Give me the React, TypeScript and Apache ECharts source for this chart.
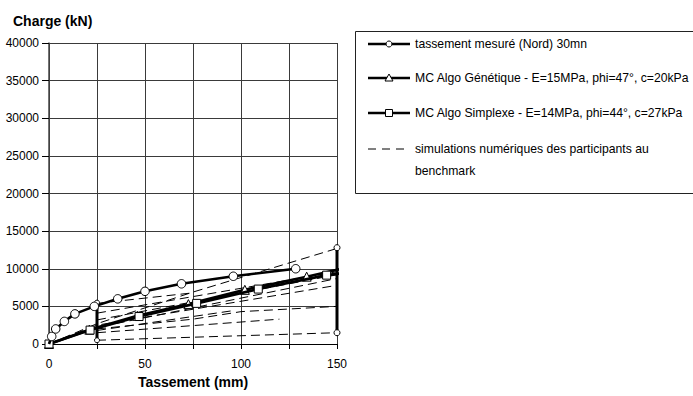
import React, { useEffect, useRef } from "react";
import * as echarts from "echarts";

const FONT = "'Liberation Sans', Arial, sans-serif";

const xTicks = [0, 25, 50, 75, 100, 125, 150];
const yTicks = [0, 5000, 10000, 15000, 20000, 25000, 30000, 35000, 40000];

const measured: number[][] = [
  [0, 0], [1.4, 1000], [3.5, 2000], [8, 3000], [13.5, 4000], [23.6, 5000],
  [35.8, 6000], [50, 7000], [69, 8000], [96, 9000], [128.5, 10000],
];
const genetic: number[][] = [
  [0, 0], [21, 1900], [46, 3750], [72.6, 5300], [102, 7200], [134.2, 8950], [152.5, 10000],
];
const simplex: number[][] = [
  [0, 0], [21.4, 1850], [46.9, 3650], [76.9, 5400], [109, 7300], [144.6, 9150], [152.5, 9400],
];
const rangeAt25: number[][] = [[25, 500], [25, 5500]];
const rangeAt150: number[][] = [[150, 1500], [150, 12800]];

const simulations: number[][][] = [
  [[25, 500], [150, 1500]],
  [[25, 2000], [75, 3300], [100, 4300], [150, 5000]],
  [[25, 1500], [120, 3300]],
  [[25, 1800], [95, 4400]],
  [[0, 0], [25, 2500], [150, 7800]],
  [[0, 0], [25, 2200], [150, 8700]],
  [[25, 3200], [150, 9200]],
  [[25, 4100], [150, 9600]],
  [[0, 0], [25, 2700], [75, 6900], [150, 12700]],
  [[25, 5400], [50, 6100], [75, 6800]],
];

const legendLabels = [
  "tassement mesuré (Nord) 30mn",
  "MC Algo Génétique - E=15MPa, phi=47°, c=20kPa",
  "MC Algo Simplexe - E=14MPa, phi=44°, c=27kPa",
  "simulations numériques des participants au",
  "benchmark",
];

export default function App() {
  const ref = useRef<HTMLDivElement>(null);
  useEffect(() => {
    const chart = echarts.init(ref.current!, null, { renderer: "svg" });
    const thick = { color: "#000", width: 2.6 };
    const markerStyle = { color: "#fff", borderColor: "#000", borderWidth: 1 };
    const series: any[] = [];
    simulations.forEach((d, i) => {
      series.push({
        type: "line",
        name: "sim" + i,
        data: d,
        symbol: "none",
        clip: false,
        lineStyle: { color: "#000", width: 1, type: [9, 5] },
        z: 2,
      });
    });
    series.push(
      {
        type: "line", name: "r25", data: rangeAt25, symbol: "circle", symbolSize: 5,
        itemStyle: markerStyle, lineStyle: { color: "#000", width: 3 }, clip: false, z: 3,
      },
      {
        type: "line", name: "r150", data: rangeAt150, symbol: "circle", symbolSize: 6,
        itemStyle: markerStyle, lineStyle: { color: "#000", width: 3 }, clip: false, z: 3,
      },
      {
        type: "line", name: "genetic", data: genetic.map((p, i) => ({ value: p, symbol: i === genetic.length - 1 ? "none" : "triangle" })),
        symbol: "triangle", symbolSize: 9, itemStyle: markerStyle, lineStyle: thick, clip: false, z: 4,
      },
      {
        type: "line", name: "simplex", data: simplex.map((p, i) => ({ value: p, symbol: i === simplex.length - 1 ? "none" : "rect" })),
        symbol: "rect", symbolSize: 8, itemStyle: markerStyle, lineStyle: thick, clip: false, z: 5,
      },
      {
        type: "line", name: "measured", data: measured.map((p, i) => ({ value: p, symbol: i === 0 ? "none" : "circle" })),
        symbol: "circle", symbolSize: 8.5, itemStyle: markerStyle, lineStyle: thick, clip: false, z: 6,
      }
    );

    const lx1 = 368, lx2 = 410, lmid = 389, tx = 415;
    const rows = [44, 78, 113, 149];
    const textStyle = (t: string, y: number) => ({
      type: "text", x: tx, y, style: { text: t, font: `12.2px ${FONT}`, fill: "#000", verticalAlign: "middle", align: "left" },
    });
    const graphic: any[] = [
      { type: "text", x: 13, y: 21, style: { text: "Charge (kN)", font: `bold 14px ${FONT}`, fill: "#000", verticalAlign: "middle" } },
      { type: "rect", shape: { x: 355.5, y: 31.5, width: 400, height: 162 }, style: { fill: "#fff", stroke: "#222", lineWidth: 1 }, z: 10 },
      { type: "line", shape: { x1: lx1, y1: rows[0], x2: lx2, y2: rows[0] }, style: { stroke: "#000", lineWidth: 2.6 }, z: 11 },
      { type: "circle", shape: { cx: lmid, cy: rows[0], r: 3 }, style: { fill: "#fff", stroke: "#000", lineWidth: 1 }, z: 12 },
      { type: "line", shape: { x1: lx1, y1: rows[1], x2: lx2, y2: rows[1] }, style: { stroke: "#000", lineWidth: 2.6 }, z: 11 },
      { type: "polygon", shape: { points: [[lmid, rows[1] - 4], [lmid - 4, rows[1] + 3], [lmid + 4, rows[1] + 3]] }, style: { fill: "#fff", stroke: "#000", lineWidth: 1 }, z: 12 },
      { type: "line", shape: { x1: lx1, y1: rows[2], x2: lx2, y2: rows[2] }, style: { stroke: "#000", lineWidth: 2.6 }, z: 11 },
      { type: "rect", shape: { x: lmid - 3.5, y: rows[2] - 3.5, width: 7, height: 7 }, style: { fill: "#fff", stroke: "#000", lineWidth: 1 }, z: 12 },
      { type: "line", shape: { x1: lx1, y1: rows[3], x2: 406, y2: rows[3] }, style: { stroke: "#000", lineWidth: 1, lineDash: [8, 6] }, z: 11 },
    ];
    rows.forEach((y, i) => graphic.push({ ...textStyle(legendLabels[i], y), z: 12 }));
    graphic.push({ ...textStyle(legendLabels[4], 171), z: 12 });

    chart.setOption({
      animation: false,
      backgroundColor: "#fff",
      grid: { left: 49, right: 356, top: 43, bottom: 52 },
      xAxis: {
        type: "value",
        min: xTicks[0],
        max: xTicks[xTicks.length - 1],
        interval: 25,
        name: "Tassement (mm)",
        nameLocation: "middle",
        nameGap: 29,
        nameTextStyle: { fontFamily: FONT, fontWeight: "bold", fontSize: 14, color: "#000" },
        axisLine: { lineStyle: { color: "#000", width: 1 } },
        axisTick: { show: true, length: 5, lineStyle: { color: "#000" } },
        axisLabel: {
          fontFamily: FONT, fontSize: 12, color: "#000", margin: 14,
          formatter: (v: number) => (v % 50 === 0 ? String(v) : ""),
        },
        splitLine: { show: true, lineStyle: { color: "#3a3a3a", width: 1 } },
      },
      yAxis: {
        type: "value",
        min: yTicks[0],
        max: yTicks[yTicks.length - 1],
        interval: 5000,
        axisLine: { show: true, lineStyle: { color: "#444", width: 1.5 } },
        axisTick: { show: true, length: 7, lineStyle: { color: "#000" } },
        axisLabel: { fontFamily: FONT, fontSize: 12, color: "#000", margin: 10, formatter: (v: number) => String(v) },
        splitLine: { show: true, lineStyle: { color: "#3a3a3a", width: 1 } },
      },
      series,
      graphic,
    });
    return () => chart.dispose();
  }, []);
  return <div ref={ref} style={{ width: 693, height: 396, position: "absolute", left: 0, top: 0 }} />;
}
